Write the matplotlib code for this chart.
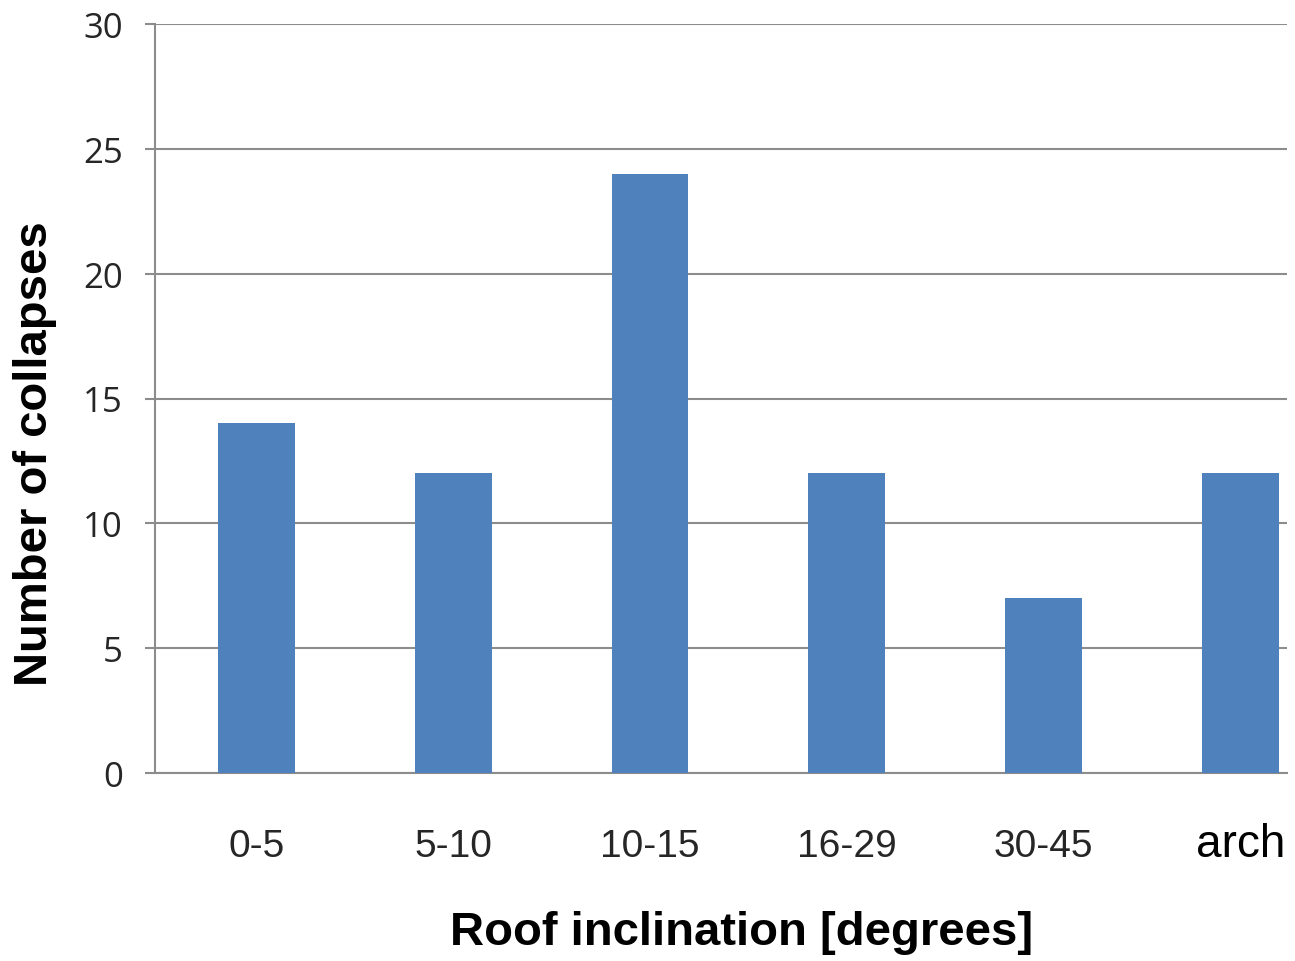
import matplotlib
matplotlib.use("Agg")
import matplotlib.pyplot as plt

# Data
categories = ["0-5", "5-10", "10-15", "16-29", "30-45", "arch"]
collapses = [14, 12, 24, 12, 7, 12]
y_ticks = [0, 5, 10, 15, 20, 25, 30]

bar_color = "#4F81BD"
grid_color = "#8C8C8C"

fig = plt.figure(figsize=(12.95, 9.62), dpi=100)
ax = fig.add_axes([155 / 1295, 188 / 962, 1132 / 1295, 749 / 962])

x = list(range(len(categories)))
ax.bar(x, collapses, width=0.39, color=bar_color, zorder=3)

ax.set_xlim(-0.515, 5.236)
ax.set_ylim(0, 30)
ax.set_yticks(y_ticks)
ax.yaxis.grid(True, color=grid_color, linewidth=1.5, zorder=0)
ax.set_axisbelow(True)

for side in ["top", "right"]:
    ax.spines[side].set_visible(False)
ax.spines["left"].set_color(grid_color)
ax.spines["bottom"].set_color(grid_color)
ax.spines["left"].set_linewidth(1.5)
ax.spines["bottom"].set_linewidth(1.5)

ax.tick_params(axis="y", direction="out", length=7, width=1.5, color=grid_color,
               pad=16, labelsize=25, labelcolor="#262626")
for lab in ax.get_yticklabels():
    lab.set_family(["Open Sans", "DejaVu Sans"])

ax.set_xticks(x)
ax.set_xticklabels(categories)
ax.tick_params(axis="x", length=0, pad=60, labelcolor="#262626")
for lab in ax.get_xticklabels():
    lab.set_verticalalignment("baseline")
    lab.set_family(["Liberation Sans", "DejaVu Sans"])
    if lab.get_text() == "arch":
        lab.set_fontsize(33)
        lab.set_color("black")
    else:
        lab.set_fontsize(28)

fig.text(742 / 1295, 1 - 933 / 962, "Roof inclination [degrees]", ha="center", va="center",
         fontsize=34, fontweight="bold", family=["Liberation Sans", "DejaVu Sans"])
fig.text(35 / 1295, 1 - 454 / 962, "Number of collapses", ha="center", va="center",
         rotation=90, fontsize=34, fontweight="bold", family=["Liberation Sans", "DejaVu Sans"])

fig.savefig("out.png", dpi=100)
